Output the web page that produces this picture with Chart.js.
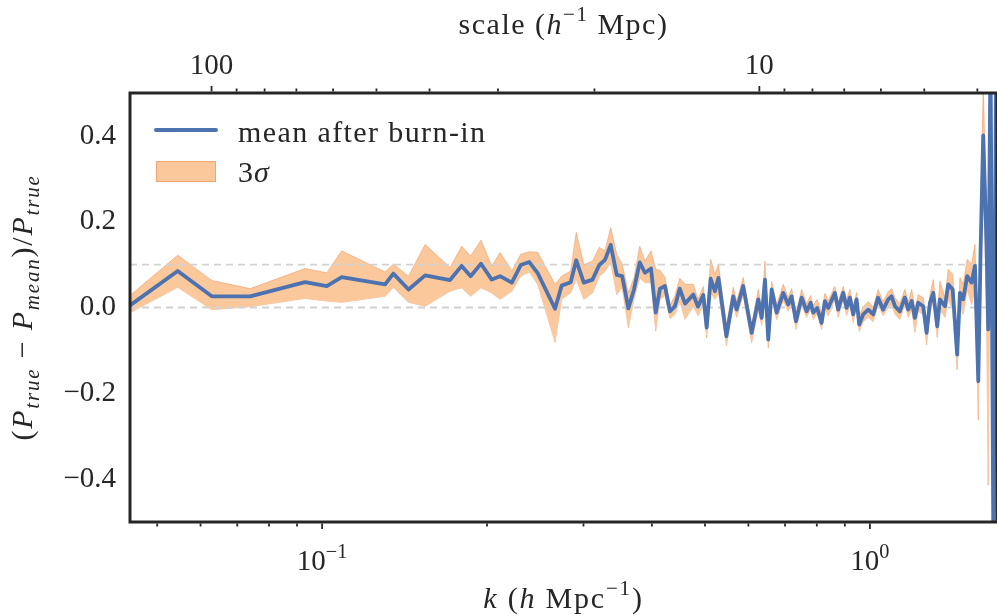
<!DOCTYPE html>
<html>
<head>
<meta charset="utf-8">
<script src="https://cdn.jsdelivr.net/npm/chart.js@4.4.1/dist/chart.umd.min.js"></script>
<style>
  html, body { margin: 0; padding: 0; background: #ffffff; }
  #wrap { width: 997px; height: 616px; }
</style>
</head>
<body>
<div id="wrap"><canvas id="chart" width="997" height="616"></canvas></div>
<script>
// k in h/Mpc
const kValues = [
  0.0446, 0.0545, 0.0629, 0.0739, 0.0931, 0.1020, 0.1086, 0.1303, 0.1349, 0.1438,
  0.1542, 0.1712, 0.1798, 0.1867, 0.1950, 0.2040, 0.2113, 0.2220, 0.2305, 0.2389,
  0.2475, 0.2662, 0.2737, 0.2843, 0.2910, 0.3004, 0.3116, 0.3206, 0.3284, 0.3364,
  0.3450, 0.3530, 0.3623, 0.3710, 0.3800, 0.3885, 0.3985, 0.4064, 0.4138, 0.4226,
  0.4315, 0.4407, 0.4496, 0.4597, 0.4760, 0.4854, 0.4964, 0.5035, 0.5120, 0.5213,
  0.5290, 0.5471, 0.5630, 0.5711, 0.5871, 0.6083, 0.6255, 0.6345, 0.6433, 0.6523,
  0.6616, 0.6757, 0.6947, 0.7094, 0.7196, 0.7328, 0.7505, 0.7664, 0.7794, 0.7878,
  0.8012, 0.8162, 0.8276, 0.8392, 0.8630, 0.8751, 0.8937, 0.9066, 0.9194, 0.9322,
  0.9456, 0.9561, 0.9723, 0.9929, 1.014, 1.035, 1.057, 1.080, 1.095, 1.111,
  1.134, 1.158, 1.175, 1.192, 1.208, 1.225, 1.251, 1.269, 1.287, 1.305,
  1.327, 1.342, 1.371, 1.390, 1.416, 1.443, 1.460, 1.480, 1.505, 1.533,
  1.555, 1.577, 1.592, 1.610, 1.633, 1.644, 1.660, 1.681, 1.698
];
const meanValues = [
  0.005, 0.085, 0.026, 0.026, 0.059, 0.050, 0.071, 0.054, 0.079, 0.042,
  0.075, 0.064, 0.097, 0.073, 0.102, 0.065, 0.073, 0.058, 0.099, 0.106,
  0.080, -0.003, 0.051, 0.059, 0.110, 0.058, 0.065, 0.099, 0.111, 0.146,
  0.076, 0.073, -0.002, 0.042, 0.105, 0.081, 0.091, -0.012, 0.044, 0.050,
  -0.009, 0.003, 0.044, 0.009, 0.030, 0.002, 0.029, -0.047, 0.067, 0.038,
  0.069, -0.067, 0.026, -0.005, 0.050, -0.059, 0.019, -0.024, 0.065, -0.075,
  0.042, -0.012, 0.034, 0.007, 0.026, -0.032, 0.023, -0.009, 0.011, -0.012,
  -0.001, -0.036, 0.015, -0.001, 0.034, -0.005, 0.034, -0.001, 0.023, -0.016,
  0.019, -0.040, -0.016, -0.005, -0.016, 0.023, -0.005, 0.019, 0.026, 0.003,
  -0.009, 0.023, -0.005, 0.015, -0.024, 0.011, 0.003, -0.059, 0.011, 0.034,
  -0.044, 0.019, 0.003, 0.054, 0.042, -0.110, 0.034, 0.019, 0.073, 0.058,
  0.097, -0.172, 0.128, 0.401, 0.143, -0.051, 0.600, -0.600, 0.500
];
const upperValues = [
  0.028, 0.122, 0.063, 0.044, 0.091, 0.081, 0.132, 0.083, 0.101, 0.073,
  0.147, 0.093, 0.143, 0.120, 0.157, 0.097, 0.128, 0.085, 0.124, 0.130,
  0.129, 0.054, 0.073, 0.085, 0.175, 0.100, 0.108, 0.140, 0.132, 0.186,
  0.124, 0.101, 0.034, 0.070, 0.143, 0.108, 0.132, 0.089, 0.087, 0.070,
  0.005, 0.028, 0.068, 0.054, 0.054, 0.019, 0.049, -0.023, 0.112, 0.077,
  0.101, -0.040, 0.047, 0.014, 0.070, -0.040, 0.042, -0.005, 0.108, -0.051,
  0.061, 0.007, 0.054, 0.023, 0.044, -0.012, 0.042, 0.009, 0.028, 0.005,
  0.019, -0.016, 0.033, 0.016, 0.049, 0.014, 0.049, 0.019, 0.042, 0.002,
  0.035, -0.019, 0.002, 0.014, 0.000, 0.042, 0.014, 0.037, 0.044, 0.023,
  0.009, 0.042, 0.014, 0.042, -0.005, 0.030, 0.023, -0.033, 0.030, 0.065,
  -0.019, 0.061, 0.023, 0.089, 0.077, -0.075, 0.070, 0.054, 0.112, 0.101,
  0.147, -0.133, 0.182, 0.520, 0.206, 0.019, 0.700, -0.400, 0.700
];
const lowerValues = [
  -0.012, 0.047, -0.005, 0.002, 0.021, 0.015, 0.012, 0.026, 0.047, 0.012,
  0.003, 0.038, 0.046, 0.026, 0.046, 0.034, 0.019, 0.038, 0.073, 0.083,
  0.054, -0.081, 0.019, 0.034, 0.066, 0.019, 0.034, 0.073, 0.084, 0.105,
  0.030, 0.047, -0.047, 0.019, 0.069, 0.058, 0.058, -0.055, 0.019, 0.028,
  -0.026, -0.016, 0.015, -0.028, 0.003, -0.019, 0.005, -0.071, 0.035, 0.019,
  0.035, -0.089, 0.007, -0.023, 0.030, -0.082, -0.005, -0.042, 0.037, -0.094,
  0.023, -0.028, 0.016, -0.009, 0.012, -0.051, 0.005, -0.023, -0.005, -0.028,
  -0.014, -0.051, 0.000, -0.019, 0.019, -0.023, 0.019, -0.019, 0.005, -0.035,
  0.005, -0.056, -0.033, -0.023, -0.033, 0.007, -0.019, 0.000, 0.007, -0.016,
  -0.028, 0.007, -0.023, -0.005, -0.058, -0.009, -0.016, -0.087, -0.009, 0.014,
  -0.070, -0.005, -0.023, 0.019, -0.005, -0.145, 0.007, -0.016, 0.042, 0.007,
  0.042, -0.262, 0.065, 0.346, -0.028, -0.414, 0.300, -0.700, 0.200
];

const refLevels = [0, 0.1];
const kRange = [0.0446, 1.706];
const yRange = [-0.5, 0.5];
const yTicks = [-0.4, -0.2, 0, 0.2, 0.4];
const kMajorTicks = [0.1, 1];
const kMajorLabels = ['\u22121', '0'];   // exponents of 10
const kMinorTicks = [0.05, 0.06, 0.07, 0.08, 0.09, 0.2, 0.3, 0.4, 0.5, 0.6, 0.7, 0.8, 0.9];
const scaleMajorTicks = [100, 10];
const scaleMinorTicks = [90, 80, 70, 60, 50, 40, 30, 20, 9, 8, 7, 6, 5, 4];

const FONT = "'Liberation Serif', 'DejaVu Serif', serif";
const INK = '#262626';
const BLUE = '#4c72b0';
const BAND = '#fbc89c';
const BAND_EDGE = 'rgba(236,150,100,0.7)';
const FS = 29;

// draws a run of text pieces: [text, style], style r | i | sup | sub | isub
function drawRich(ctx, parts, x, y, size, align, spacing = 0) {
  ctx.letterSpacing = spacing + 'px';
  const pieces = parts.map(([t, s]) => {
    const small = s.includes('sub') || s.includes('sup');
    const italic = s === 'i' || s === 'isub';
    const fs = small ? size * 0.7 : size;
    const dy = s.includes('sub') ? size * 0.24 : s.includes('sup') ? -size * 0.42 : 0;
    const font = (italic ? 'italic ' : '') + fs + 'px ' + FONT;
    ctx.font = font;
    return { t, font, dy, w: ctx.measureText(t).width };
  });
  const total = pieces.reduce((sum, p) => sum + p.w, 0);
  let cx = align === 'center' ? x - total / 2 : x;
  ctx.textAlign = 'left';
  ctx.textBaseline = 'alphabetic';
  pieces.forEach((p) => {
    ctx.font = p.font;
    ctx.fillText(p.t, cx, y + p.dy);
    cx += p.w;
  });
  ctx.letterSpacing = '0px';
}

const decorations = {
  id: 'decorations',
  afterDraw(chart) {
    const { ctx, chartArea: a, scales } = chart;
    const mid = (a.left + a.right) / 2;
    ctx.save();
    ctx.fillStyle = INK;
    ctx.strokeStyle = INK;

    ctx.lineWidth = 3;
    ctx.strokeRect(a.left, a.top, a.right - a.left, a.bottom - a.top);

    ctx.lineWidth = 1.8;
    const tick = (x, y0, y1) => {
      ctx.beginPath();
      ctx.moveTo(x, y0);
      ctx.lineTo(x, y1);
      ctx.stroke();
    };
    kMinorTicks.forEach((v) => tick(scales.x.getPixelForValue(v), a.bottom + 1.5, a.bottom + 4.5));
    kMajorTicks.forEach((v) => tick(scales.x.getPixelForValue(v), a.bottom + 1.5, a.bottom + 7));
    scaleMinorTicks.forEach((v) => tick(scales.x2.getPixelForValue(v), a.top - 1.5, a.top - 4.5));
    scaleMajorTicks.forEach((v) => tick(scales.x2.getPixelForValue(v), a.top - 1.5, a.top - 7));

    kMajorTicks.forEach((v, i) => {
      drawRich(ctx, [['10', 'r'], [kMajorLabels[i], 'sup']], scales.x.getPixelForValue(v), 570, FS, 'center');
    });
    scaleMajorTicks.forEach((v) => {
      drawRich(ctx, [[String(v), 'r']], scales.x2.getPixelForValue(v), 74, FS, 'center');
    });

    drawRich(ctx, [['k', 'i'], [' (', 'r'], ['h', 'i'], [' Mpc', 'r'], ['\u22121', 'sup'], [')', 'r']],
      mid, 608, 30, 'center', 1.8);
    drawRich(ctx, [['scale (', 'r'], ['h', 'i'], ['\u22121', 'sup'], [' Mpc)', 'r']],
      mid, 34, 30, 'center', 1.5);

    ctx.save();
    ctx.translate(32, (a.top + a.bottom) / 2);
    ctx.rotate(-Math.PI / 2);
    drawRich(ctx, [['(', 'r'], ['P', 'i'], ['true', 'isub'], [' \u2212 ', 'r'], ['P', 'i'], ['mean', 'isub'],
      [')/', 'r'], ['P', 'i'], ['true', 'isub']], 0, 0, 30, 'center', 1.8);
    ctx.restore();

    // legend
    ctx.strokeStyle = BLUE;
    ctx.lineWidth = 4;
    ctx.lineCap = 'round';
    ctx.beginPath();
    ctx.moveTo(156, 130);
    ctx.lineTo(216, 130);
    ctx.stroke();
    ctx.fillStyle = BAND;
    ctx.fillRect(156, 161, 60, 21);
    ctx.strokeStyle = BAND_EDGE;
    ctx.lineWidth = 1;
    ctx.strokeRect(156.5, 161.5, 59, 20);
    ctx.fillStyle = INK;
    drawRich(ctx, [['mean after burn-in', 'r']], 238, 142, 30, 'left', 1.4);
    drawRich(ctx, [['3', 'r'], ['\u03c3', 'i']], 238, 182, 30, 'left', 1);
    ctx.restore();
  }
};

const points = (values) => kValues.map((k, i) => ({ x: k, y: values[i] }));

const refSets = refLevels.map((level) => ({
  data: [{ x: kRange[0], y: level }, { x: kRange[1], y: level }],
  borderColor: '#d2d2d2',
  borderWidth: 1.8,
  borderDash: [7, 5],
  pointRadius: 0,
  fill: false
}));

new Chart(document.getElementById('chart'), {
  type: 'line',
  data: {
    datasets: [
      {
        data: points(meanValues),
        borderColor: BLUE,
        borderWidth: 3.8,
        borderJoinStyle: 'round',
        pointRadius: 0,
        tension: 0,
        fill: false
      },
      ...refSets,
      {
        data: points(upperValues),
        borderColor: BAND_EDGE,
        borderWidth: 0.8,
        backgroundColor: BAND,
        pointRadius: 0,
        tension: 0,
        fill: '+1'
      },
      {
        data: points(lowerValues),
        borderColor: BAND_EDGE,
        borderWidth: 0.8,
        pointRadius: 0,
        tension: 0,
        fill: false
      }
    ]
  },
  options: {
    responsive: false,
    animation: false,
    devicePixelRatio: 1,
    layout: { padding: 0 },
    plugins: { legend: { display: false }, tooltip: { enabled: false } },
    scales: {
      x: {
        type: 'logarithmic',
        position: 'bottom',
        min: kRange[0],
        max: kRange[1],
        grid: { display: false },
        border: { display: false },
        ticks: { display: false },
        afterFit: (s) => { s.height = 94; }
      },
      x2: {
        type: 'logarithmic',
        axis: 'x',
        position: 'top',
        reverse: true,
        min: 2 * Math.PI / kRange[1],
        max: 2 * Math.PI / kRange[0],
        grid: { display: false },
        border: { display: false },
        ticks: { display: false },
        afterFit: (s) => { s.height = 93; }
      },
      y: {
        min: yRange[0],
        max: yRange[1],
        grid: { display: false, drawTicks: false },
        border: { display: false },
        afterBuildTicks: (s) => { s.ticks = yTicks.map((value) => ({ value })); },
        ticks: {
          padding: 14,
          color: INK,
          font: { family: FONT, size: FS },
          callback: (v) => (v < 0 ? '\u2212' : '') + Math.abs(v).toFixed(1)
        },
        afterFit: (s) => { s.width = 130; }
      }
    }
  },
  plugins: [decorations]
});
</script>
</body>
</html>
